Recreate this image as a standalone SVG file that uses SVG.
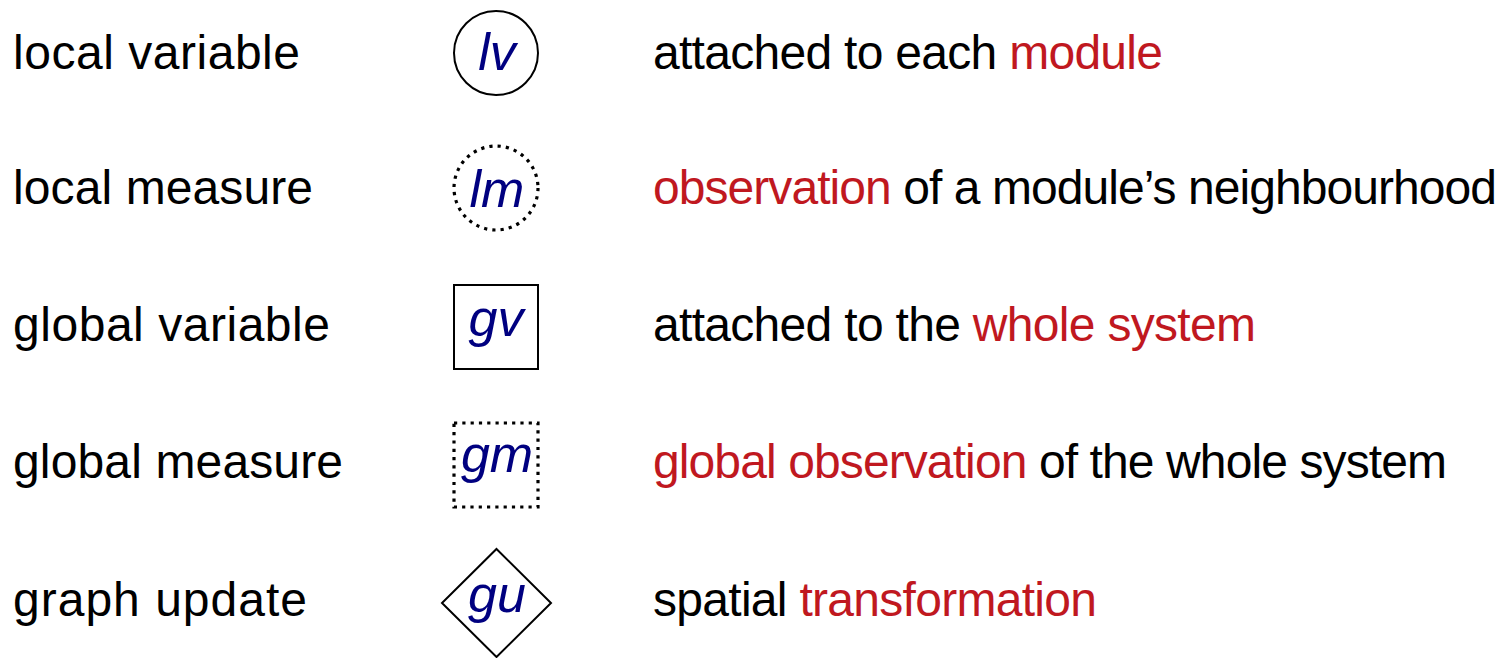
<svg xmlns="http://www.w3.org/2000/svg" width="1512" height="658" viewBox="0 0 1512 658">
<style>
.lbl{font-family:"Liberation Sans",Arial,sans-serif;font-size:48px;fill:#000}
.red{fill:#c0181f}
.sym{font-family:"Liberation Sans",Arial,sans-serif;font-style:italic;font-size:52px;fill:#000080;text-anchor:middle}
.solid{fill:#fff;stroke:#000;stroke-width:2}
.dot{fill:#fff;stroke:#000;stroke-width:3.2;stroke-dasharray:3.2 5.1}
</style>
<rect width="1512" height="658" fill="#fff"/>
<g id="connectors"></g>
<g id="row-lv">
<text class="lbl" x="13" y="69" textLength="287" lengthAdjust="spacing">local variable</text>
<circle class="solid" cx="496" cy="53" r="42"/>
<text class="sym" x="497" y="70">lv</text>
<text class="lbl" x="653" y="69" textLength="510" lengthAdjust="spacing">attached to each <tspan class="red">module</tspan></text>
</g>
<g id="row-lm">
<text class="lbl" x="13" y="204" textLength="300" lengthAdjust="spacing">local measure</text>
<circle class="dot" cx="496" cy="188" r="42"/>
<text class="sym" x="497" y="207">lm</text>
<text class="lbl" x="653" y="204" textLength="844" lengthAdjust="spacing"><tspan class="red">observation</tspan> of a module’s neighbourhood</text>
</g>
<g id="row-gv">
<text class="lbl" x="13" y="341" textLength="317" lengthAdjust="spacing">global variable</text>
<rect class="solid" x="454" y="285" width="84" height="84"/>
<text class="sym" x="496" y="336">gv</text>
<text class="lbl" x="653" y="341" textLength="603" lengthAdjust="spacing">attached to the <tspan class="red">whole system</tspan></text>
</g>
<g id="row-gm">
<text class="lbl" x="13" y="478" textLength="330" lengthAdjust="spacing">global measure</text>
<rect class="dot" x="454" y="423" width="84" height="84"/>
<text class="sym" x="497" y="472">gm</text>
<text class="lbl" x="653" y="478" textLength="794" lengthAdjust="spacing"><tspan class="red">global observation</tspan> of the whole system</text>
</g>
<g id="row-gu">
<text class="lbl" x="13" y="616" textLength="294" lengthAdjust="spacing">graph update</text>
<polygon class="solid" points="496.5,549 551,603 496.5,657 442,603"/>
<text class="sym" x="497" y="612">gu</text>
<text class="lbl" x="653" y="616" textLength="444" lengthAdjust="spacing">spatial <tspan class="red">transformation</tspan></text>
</g>
</svg>
